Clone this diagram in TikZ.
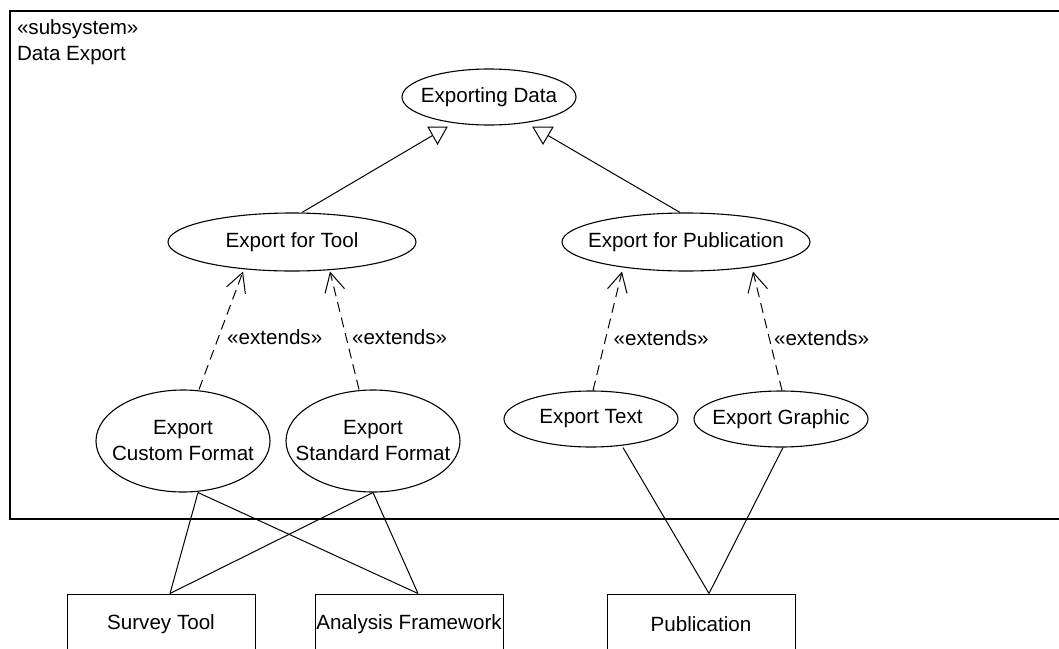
\documentclass[tikz,border=0pt]{standalone}
\usepackage{fontspec}
\setmainfont{Liberation Sans}
\usetikzlibrary{shapes.geometric,arrows.meta}
\begin{document}
\begin{tikzpicture}[x=1pt,y=-1pt,
  every node/.style={font=\fontsize{20.6}{26}\selectfont},
  uc/.style={draw,ellipse,line width=1.1pt,inner sep=0pt,
    label={[align=center]center:#1}},
  actor/.style={draw,rectangle,line width=1pt,minimum width=188pt,
    minimum height=60pt,inner sep=0pt},
  link/.style={line width=1pt},
  frame/.style={line width=1.4pt},
  extend/.style={line width=1pt,dash pattern=on 10pt off 6pt,
    -{Straight Barb[length=19pt,width=20pt,line width=1pt]}},
  stereo/.style={pos=0.44,anchor=west}]
\useasboundingbox (0,0) rectangle (1059,648);
\clip (0,0) rectangle (1059,648);

% subsystem frame and its heading
\draw[frame] (10,11) rectangle (1080,519);
\node[anchor=base west] (kind) at (13.5,34) {«subsystem»};
\node[anchor=base west] (title) at (13.5,60) {Data Export};

% use cases
\node[uc={Exporting Data},minimum width=174pt,minimum height=56pt] (ed) at (489,97) {};
\node[uc={Export for Tool},minimum width=248pt,minimum height=58pt] (tool) at (292,242) {};
\node[uc={Export for Publication},minimum width=248pt,minimum height=58pt] (pub) at (686,242) {};
\node[uc={Export\\Custom Format},minimum width=174pt,minimum height=102pt] (cf) at (183,441) {};
\node[uc={Export\\Standard Format},minimum width=174pt,minimum height=102pt] (sf) at (373,441) {};
\node[uc={Export Text},minimum width=174pt,minimum height=56pt] (et) at (591,419) {};
\node[uc={Export Graphic},minimum width=174pt,minimum height=56pt] (eg) at (781,419) {};

% actors
\node[actor] (survey) at (161,624) {Survey Tool};
\node[actor] (analysis) at (409,624) {Analysis Framework};
\node[actor] (publ) at (701,624) {Publication};

% generalisation towards Exporting Data (hollow triangles)
\coordinate (gl) at (432.5,135.5);
\coordinate (gr) at (548,135.5);
\draw[link] ([xshift=10pt]tool.north) -- (gl);
\draw[link] ([xshift=-6pt]pub.north) -- (gr);
\draw[link,line join=miter] (428,127) -- (447,127) -- (437.5,144) -- cycle;
\draw[link,line join=miter] (533,127) -- (553,127) -- (543,144) -- cycle;

% extends relations
\draw[extend] ([xshift=16pt]cf.north) -- ([xshift=-49pt]tool.south)
  node[stereo,xshift=5pt] (x1) {«extends»};
\draw[extend] ([xshift=-14pt]sf.north) -- ([xshift=38pt]tool.south)
  node[stereo,xshift=2pt] (x2) {«extends»};
\draw[extend] ([xshift=2pt]et.north) -- ([xshift=-64pt]pub.south)
  node[stereo,xshift=4pt] (x3) {«extends»};
\draw[extend] ([xshift=1pt]eg.north) -- ([xshift=67pt]pub.south)
  node[stereo,xshift=1pt] (x4) {«extends»};

% actor associations
\draw[link] ([xshift=15pt]cf.south) -- ([xshift=9pt]survey.north);
\draw[link] ([xshift=15pt]cf.south) -- ([xshift=9pt]analysis.north);
\draw[link] (sf.south) -- ([xshift=9pt]survey.north);
\draw[link] (sf.south) -- ([xshift=9pt]analysis.north);
\draw[link] ([xshift=32pt]et.south) -- ([xshift=8pt]publ.north);
\draw[link] ([xshift=2pt]eg.south) -- ([xshift=8pt]publ.north);
\end{tikzpicture}
\end{document}
